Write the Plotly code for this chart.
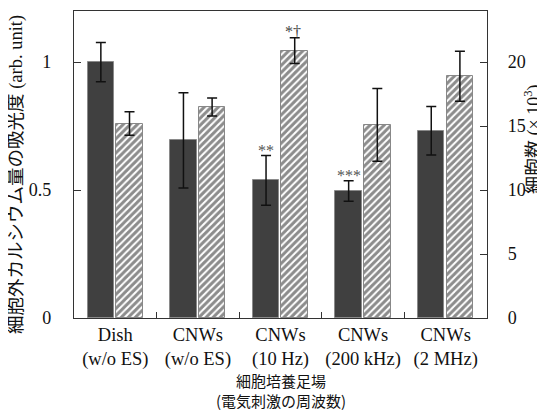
import plotly.graph_objects as go

categories = ["Dish<br>(w/o ES)", "CNWs<br>(w/o ES)", "CNWs<br>(10 Hz)", "CNWs<br>(200 kHz)", "CNWs<br>(2 MHz)"]
absorbance = [1.0, 0.694, 0.538, 0.496, 0.732]
absorbance_err = [0.077, 0.186, 0.097, 0.04, 0.095]
cell_count = [15.2, 16.5, 20.9, 15.1, 18.9]
cell_count_err = [0.92, 0.7, 1.0, 2.85, 1.95]
sig_labels = ["", "", "**", "***", ""]
sig_labels2 = ["", "", "*†", "", ""]

xpos = list(range(len(categories)))
FONT = "Liberation Serif, Times New Roman, Noto Sans CJK JP, serif"
JFONT = "Noto Sans CJK JP, Liberation Serif, sans-serif"

fig = go.Figure()
fig.add_trace(go.Bar(
    x=xpos, y=absorbance, yaxis="y", width=0.32, offset=-0.335,
    marker=dict(color="#404040", line=dict(color="#8a8a8a", width=1)),
    error_y=dict(type="data", array=absorbance_err, color="#111111", thickness=1.5, width=5),
    showlegend=False,
))
fig.add_trace(go.Bar(
    x=xpos, y=cell_count, yaxis="y2", width=0.32, offset=0.012,
    marker=dict(color="white", line=dict(color="#888888", width=1),
                pattern=dict(shape="/", fgcolor="#1a1a1a", bgcolor="white", size=5, solidity=0.6)),
    error_y=dict(type="data", array=cell_count_err, color="#111111", thickness=1.5, width=5),
    showlegend=False,
))

annotations = []
for i, s in enumerate(sig_labels):
    if s:
        annotations.append(dict(x=i - 0.175, y=absorbance[i] + absorbance_err[i], xref="x", yref="y",
                                text=s, showarrow=False, yanchor="bottom", yshift=-5,
                                font=dict(family=FONT, size=16, color="#555555")))
for i, s in enumerate(sig_labels2):
    if s:
        annotations.append(dict(x=i + 0.15, y=cell_count[i] + cell_count_err[i], xref="x", yref="y2",
                                text=s, showarrow=False, yanchor="bottom", yshift=-4,
                                font=dict(family=FONT, size=16, color="#444444")))

# axis titles (positions relative to plot area: x 74..487, y 11..318 on screen)
annotations += [
    dict(x=0.5, y=-72 / 307, xref="paper", yref="paper", yanchor="middle",
         text="細胞培養足場<br>(電気刺激の周波数)", showarrow=False,
         font=dict(family=JFONT, size=15, color="#111111")),
    dict(x=(16 - 74) / 413, y=(318 - 175) / 307, xref="paper", yref="paper",
         xanchor="center", yanchor="middle", textangle=-90,
         text="細胞外カルシウム量の吸光度 (arb. unit)", showarrow=False,
         font=dict(family=FONT, size=18.5, color="#111111")),
    dict(x=(533 - 74) / 413, y=(318 - 140) / 307, xref="paper", yref="paper",
         xanchor="center", yanchor="middle", textangle=-90,
         text="細胞数 (× 10<sup>3</sup>)", showarrow=False,
         font=dict(family=FONT, size=18, color="#111111")),
]

fig.update_layout(
    width=537, height=412,
    margin=dict(l=66, r=58, t=3, b=102),
    paper_bgcolor="white", plot_bgcolor="white",
    font=dict(family=FONT, size=17, color="#111111"),
    bargap=0,
    annotations=annotations,
    xaxis=dict(
        range=[-0.5, 4.5], tickvals=xpos, ticktext=categories, automargin=False,
        showline=True, linecolor="#333333", linewidth=1.2, mirror=True,
        ticks="", showgrid=False, zeroline=False,
        tickfont=dict(family=FONT, size=18.5, color="#111111"),
        minor=dict(tickvals=[0.5, 1.5, 2.5, 3.5], ticks="inside", ticklen=6, tickcolor="#333333", tickwidth=1),
    ),
    yaxis=dict(
        range=[0, 1.2], tickvals=[0, 0.5, 1], ticktext=["0", "0.5", "1"], automargin=False,
        showline=True, linecolor="#333333", linewidth=1.2,
        ticks="inside", ticklen=7, tickcolor="#333333",
        showgrid=False, zeroline=False, ticklabelstandoff=18,
        tickfont=dict(family=FONT, size=18, color="#111111"),
    ),
    yaxis2=dict(
        range=[0, 24], tickvals=[0, 5, 10, 15, 20], overlaying="y", side="right", automargin=False,
        showline=True, linecolor="#333333", linewidth=1.2,
        ticks="inside", ticklen=7, tickcolor="#333333",
        showgrid=False, zeroline=False, ticklabelstandoff=16,
        tickfont=dict(family=FONT, size=18, color="#111111"),
    ),
)

fig.write_html("out.html")
